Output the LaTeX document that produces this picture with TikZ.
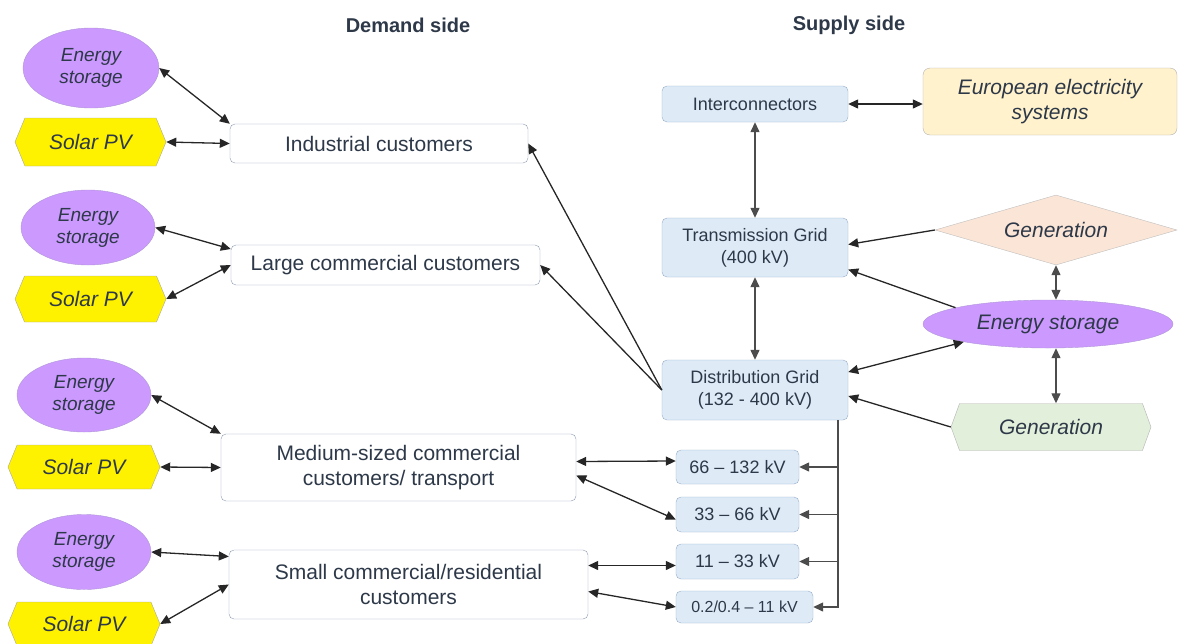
\documentclass[tikz,border=0pt]{standalone}
\usepackage{fontspec}
\setmainfont{Liberation Sans}
\usetikzlibrary{shapes, arrows.meta, positioning,
                shapes.geometric, shapes.symbols}
\definecolor{txt}{RGB}{45,56,72}
\definecolor{stor}{RGB}{204,153,255}
\definecolor{storline}{RGB}{175,150,215}
\definecolor{gridfill}{RGB}{222,235,247}
\definecolor{gridline}{RGB}{150,172,200}
\definecolor{custline}{RGB}{140,155,178}
\definecolor{eurofill}{RGB}{255,242,204}
\definecolor{genfill}{RGB}{251,229,214}
\definecolor{gentwo}{RGB}{226,239,218}

\begin{document}
\begin{tikzpicture}[
	x=1pt, y=-1pt,
	every node/.style={text=txt, inner sep=0pt, align=center},
	StorNode/.style={ellipse, draw=storline, fill=stor,
		font=\fontsize{19}{22}\selectfont\itshape},
	SolarNode/.style={signal, signal to=west and east, signal pointer angle=135,
		draw=black!35, fill=yellow, font=\fontsize{21}{24}\selectfont\itshape},
	CustNode/.style={rectangle, rounded corners=5pt, draw=custline, fill=white,
		font=\fontsize{21}{25}\selectfont},
	GridNode/.style={rectangle, rounded corners=5pt, draw=gridline, fill=gridfill,
		font=\fontsize{18}{22}\selectfont},
	TwoWay/.style={{Triangle[length=10pt,width=9pt]}-{Triangle[length=10pt,width=9pt]},
		line width=1.3pt, black!85},
	OneWay/.style={-{Triangle[length=10pt,width=9pt]}, line width=1.3pt, black!85}
	]
\useasboundingbox (0,0) rectangle (1178,643);

% titles
\node [font=\fontsize{20}{24}\selectfont\bfseries] (demand) at (408,25) {Demand side};
\node [font=\fontsize{20}{24}\selectfont\bfseries] (supply) at (849,25) {Supply side};

% demand side
\node [StorNode, minimum width=136pt, minimum height=80pt] (es1) at (91,68) {Energy\\storage};
\node [SolarNode, minimum width=151pt, minimum height=48pt] (pv1) at (90.5,142) {Solar PV};
\node [CustNode, minimum width=298pt, minimum height=39pt] (ind) at (379,143.5) {Industrial customers};

\node [StorNode, minimum width=134pt, minimum height=75pt] (es2) at (88,227.5) {Energy\\storage};
\node [SolarNode, minimum width=151pt, minimum height=46pt] (pv2) at (90.5,299) {Solar PV};
\node [CustNode, minimum width=309pt, minimum height=40pt] (large) at (385.5,265) {Large commercial customers};

\node [StorNode, minimum width=134pt, minimum height=74pt] (es3) at (84,395) {Energy\\storage};
\node [SolarNode, minimum width=152pt, minimum height=44pt] (pv3) at (84,467) {Solar PV};
\node [CustNode, minimum width=355pt, minimum height=67pt] (med) at (398.5,467.5) {Medium-sized commercial\\customers/ transport};

\node [StorNode, minimum width=134pt, minimum height=75pt] (es4) at (84,552) {Energy\\storage};
\node [SolarNode, minimum width=152pt, minimum height=44pt] (pv4) at (84,624) {Solar PV};
\node [CustNode, minimum width=359pt, minimum height=69pt] (small) at (408.5,584.5) {Small commercial/residential\\customers};

% supply side
\node [GridNode, minimum width=186pt, minimum height=36pt] (inter) at (755,104) {Interconnectors};
\node [rectangle, rounded corners=7pt, draw=black!30, fill=eurofill,
	font=\fontsize{21}{25}\selectfont\itshape,
	minimum width=254pt, minimum height=67pt] (euro) at (1050,101.5) {European electricity\\systems};
\node [GridNode, minimum width=186pt, minimum height=59pt] (trans) at (755,247.5) {Transmission Grid\\(400 kV)};
\node [diamond, aspect=3.5, draw=black!25, fill=genfill, font=\fontsize{21}{24}\selectfont\itshape,
	minimum width=242pt, minimum height=70pt] (gen1) at (1056,230) {Generation};
\node [StorNode, font=\fontsize{21}{24}\selectfont\itshape,
	minimum width=250pt, minimum height=48pt] (esR) at (1048,324) {Energy storage};
\node [GridNode, minimum width=186pt, minimum height=60pt] (dist) at (755,390) {Distribution Grid\\(132 - 400 kV)};
\node [signal, signal to=west and east, signal pointer angle=140, draw=black!30, fill=gentwo,
	font=\fontsize{21}{24}\selectfont\itshape,
	minimum width=200pt, minimum height=47pt] (gen2) at (1051,427) {Generation};

\node [GridNode, minimum width=123pt, minimum height=34pt] (v1) at (737.5,467) {66 -- 132 kV};
\node [GridNode, minimum width=123pt, minimum height=35pt] (v2) at (737.5,514.5) {33 -- 66 kV};
\node [GridNode, minimum width=123pt, minimum height=35pt] (v3) at (737.5,561.5) {11 -- 33 kV};
\node [GridNode, font=\fontsize{16}{20}\selectfont,
	minimum width=137pt, minimum height=32pt] (v4) at (744.5,607) {0.2/0.4 -- 11 kV};

% demand side links
\draw [TwoWay] (es1.east) -- (ind.north west);
\draw [TwoWay] (pv1.east) -- (ind.west);
\draw [TwoWay] (es2.east) -- ([yshift=16pt]large.west);
\draw [TwoWay] (pv2.east) -- (large.west);
\draw [TwoWay] (es3.east) -- (med.north west);
\draw [TwoWay] (pv3.east) -- (med.west);
\draw [TwoWay] (es4.east) -- ([yshift=28pt]small.west);
\draw [TwoWay] (pv4.east) -- (small.west);

% distribution to customers
\draw [OneWay] (dist.west) -- (ind.east);
\draw [OneWay] (dist.west) -- (large.east);
\draw [TwoWay] ([yshift=6pt]med.east) -- ([yshift=6pt]v1.west);
\draw [TwoWay] ([yshift=-8pt]med.east) -- ([yshift=-5pt]v2.west);
\draw [TwoWay] ([yshift=19pt]small.east) -- ([yshift=-4pt]v3.west);
\draw [TwoWay] ([yshift=-7pt]small.east) -- (v4.west);

% supply side links
\draw [TwoWay] (inter.east) -- (inter.east -| euro.west);
\draw [TwoWay, black!70] (inter.south) -- (trans.north);
\draw [TwoWay, black!70] (trans.south) -- (dist.north);
\draw [OneWay] (gen1.west) -- ([yshift=3pt]trans.east);
\draw [OneWay] (esR.170) -- ([yshift=-22pt]trans.east);
\draw [TwoWay] ([yshift=18pt]dist.east) -- (esR.192);
\draw [OneWay] (gen2.west) -- ([yshift=-6pt]dist.east);
\draw [TwoWay, black!70] (gen1.south) -- (gen1.south |- esR.north);
\draw [TwoWay, black!70] (gen1.south |- esR.south) -- (gen1.south |- gen2.north);

% voltage levels
\coordinate (bus) at (838,420);
\draw [OneWay, black!70] (bus) |- (v4.east);
\foreach \lvl in {v1, v2, v3}
	\draw [OneWay, black!70] (bus |- \lvl.east) -- (\lvl.east);

\end{tikzpicture}
\end{document}
